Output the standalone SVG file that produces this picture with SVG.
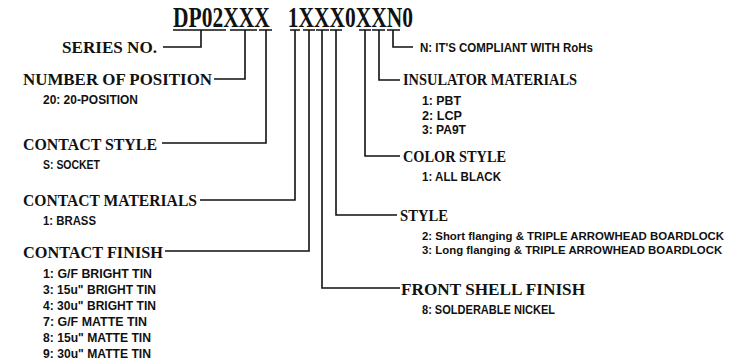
<svg xmlns="http://www.w3.org/2000/svg" width="738" height="364" viewBox="0 0 738 364">
<style>
.code{font-family:"Liberation Serif",serif;font-weight:bold;font-size:30px;fill:#111}
.h{font-family:"Liberation Serif",serif;font-weight:bold;font-size:16.5px;fill:#111}
.i{font-family:"Liberation Sans",Arial,sans-serif;font-weight:bold;font-size:12.5px;fill:#111}
.c{fill:none;stroke:#111;stroke-width:1.6}
</style>
<rect width="738" height="364" fill="#fff"/>
<g id="code">
<text class="code" x="173" y="27" word-spacing="17.6" textLength="240" lengthAdjust="spacingAndGlyphs">DP02XXX 1XXX0XXN0</text>
</g>
<g id="connectors" class="c">
<path d="M173,30H226M201,30V47H163"/>
<path d="M230,30H257M245,30V79H214"/>
<path d="M259,30H272M266,30V143H162"/>
<path d="M290,30H300M295,30V200H200"/>
<path d="M303,30H315M309,30V251H165"/>
<path d="M316,30H329M322,30V288H400"/>
<path d="M330,30H342M336,30V215H397"/>
<path d="M359,30H371M365,30V156H400"/>
<path d="M372,30H385M379,30V80H400"/>
<path d="M387,30H400M393,30V47H413"/>
</g>
<g id="series">
<text class="h" x="62" y="53" textLength="95" lengthAdjust="spacingAndGlyphs">SERIES NO.</text>
</g>
<g id="position">
<text class="h" x="23" y="85" textLength="189" lengthAdjust="spacingAndGlyphs">NUMBER OF POSITION</text>
<text class="i" x="43" y="104" textLength="95" lengthAdjust="spacingAndGlyphs">20: 20-POSITION</text>
</g>
<g id="contact-style">
<text class="h" x="23" y="150" textLength="134" lengthAdjust="spacingAndGlyphs">CONTACT STYLE</text>
<text class="i" x="43" y="168.5" textLength="57" lengthAdjust="spacingAndGlyphs">S: SOCKET</text>
</g>
<g id="contact-materials">
<text class="h" x="23" y="206" textLength="174" lengthAdjust="spacingAndGlyphs">CONTACT MATERIALS</text>
<text class="i" x="43" y="225" textLength="53" lengthAdjust="spacingAndGlyphs">1: BRASS</text>
</g>
<g id="contact-finish">
<text class="h" x="23" y="258" textLength="140" lengthAdjust="spacingAndGlyphs">CONTACT FINISH</text>
<text class="i" x="43" y="278" textLength="109" lengthAdjust="spacingAndGlyphs">1: G/F BRIGHT TIN</text>
<text class="i" x="43" y="294" textLength="113" lengthAdjust="spacingAndGlyphs">3: 15u" BRIGHT TIN</text>
<text class="i" x="43" y="310" textLength="113" lengthAdjust="spacingAndGlyphs">4: 30u" BRIGHT TIN</text>
<text class="i" x="43" y="326" textLength="104" lengthAdjust="spacingAndGlyphs">7: G/F MATTE TIN</text>
<text class="i" x="43" y="342" textLength="108" lengthAdjust="spacingAndGlyphs">8: 15u" MATTE TIN</text>
<text class="i" x="43" y="358" textLength="108" lengthAdjust="spacingAndGlyphs">9: 30u" MATTE TIN</text>
</g>
<g id="rohs">
<text class="i" x="420" y="52" textLength="173" lengthAdjust="spacingAndGlyphs">N: IT'S COMPLIANT WITH RoHs</text>
</g>
<g id="insulator">
<text class="h" x="403" y="85" textLength="174" lengthAdjust="spacingAndGlyphs">INSULATOR MATERIALS</text>
<text class="i" x="422" y="105" textLength="39" lengthAdjust="spacingAndGlyphs">1: PBT</text>
<text class="i" x="422" y="119.5" textLength="40" lengthAdjust="spacingAndGlyphs">2: LCP</text>
<text class="i" x="422" y="134" textLength="44" lengthAdjust="spacingAndGlyphs">3: PA9T</text>
</g>
<g id="color-style">
<text class="h" x="403" y="161.5" textLength="103" lengthAdjust="spacingAndGlyphs">COLOR STYLE</text>
<text class="i" x="422" y="180.5" textLength="79" lengthAdjust="spacingAndGlyphs">1: ALL BLACK</text>
</g>
<g id="style">
<text class="h" x="400" y="221" textLength="48" lengthAdjust="spacingAndGlyphs">STYLE</text>
<text class="i" x="422" y="240" style="font-size:11.4px">2: Short flanging &amp; TRIPLE ARROWHEAD BOARDLOCK</text>
<text class="i" x="422" y="254" style="font-size:11.4px">3: Long flanging &amp; TRIPLE ARROWHEAD BOARDLOCK</text>
</g>
<g id="front-shell">
<text class="h" x="401" y="294.5" textLength="184" lengthAdjust="spacingAndGlyphs">FRONT SHELL FINISH</text>
<text class="i" x="422" y="314" textLength="133" lengthAdjust="spacingAndGlyphs">8: SOLDERABLE NICKEL</text>
</g>
</svg>
